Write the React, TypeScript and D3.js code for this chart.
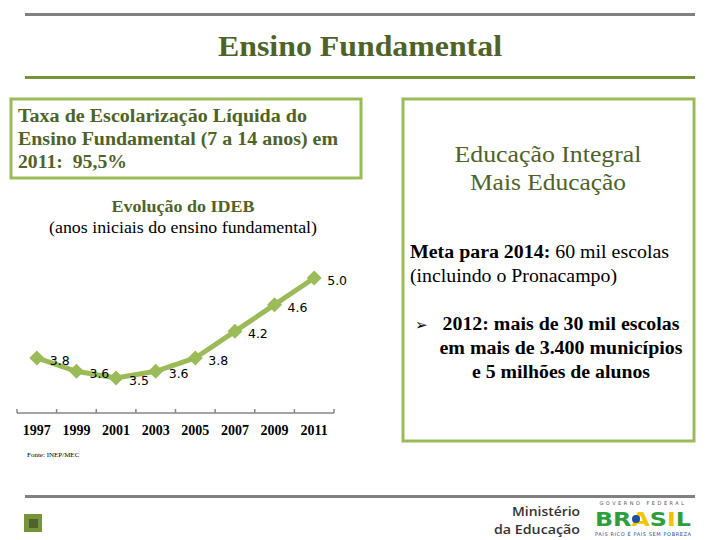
import React from "react";
import * as d3 from "d3";

const years = ["1997", "1999", "2001", "2003", "2005", "2007", "2009", "2011"];
const ideb = [3.8, 3.6, 3.5, 3.6, 3.8, 4.2, 4.6, 5.0];
const labels = ["3.8", "3.6", "3.5", "3.6", "3.8", "4.2", "4.6", "5.0"];

const title = "Ensino Fundamental";
const boxLines = [
  "Taxa de Escolarização Líquida do",
  "Ensino Fundamental (7 a 14 anos) em",
  "2011:\u00a0 95,5%",
];
const boxWidths = [289, 320, 109];
const chartTitle = "Evolução do IDEB";
const chartSub = "(anos iniciais do ensino fundamental)";
const source = "Fonte: INEP/MEC";
const rightTitle = ["Educação Integral", "Mais Educação"];
const bulletLines = ["2012: mais de 30 mil escolas", "em mais de 3.400 municípios", "e 5 milhões de alunos"];
const bulletWidths = [237, 243, 178];

const GREEN = "#9bbb59";
const DARK = "#4f6228";
const SERIF = "Liberation Serif, Times New Roman, serif";

export default function App() {
  const x = d3.scaleBand<string>().domain(years).range([17, 334]).paddingInner(0).paddingOuter(0);
  const y = d3.scaleLinear().domain([3, 5.5]).range([411.3, 244.7]);
  const pts = years.map((yr, i) => [x(yr)! + x.bandwidth() / 2, y(ideb[i])] as [number, number]);
  const line = d3.line<[number, number]>().x((d) => d[0]).y((d) => d[1]);
  const axisY = 413;
  const tickXs = d3.range(years.length + 1).map((i) => 17 + i * x.step());
  const diamond = (cx: number, cy: number) =>
    `M${cx},${cy - 7.5}L${cx + 7.5},${cy}L${cx},${cy + 7.5}L${cx - 7.5},${cy}Z`;

  return (
    <svg
      width={720}
      height={540}
      style={{ position: "absolute", left: 0, top: 0, background: "#fff", display: "block" }}
    >
      <rect x={0} y={0} width={720} height={540} fill="#fff" />
      {/* header */}
      <rect x={25} y={13} width={670} height={3} fill="#808080" />
      <text
        x={360}
        y={56}
        textAnchor="middle"
        fontFamily={SERIF}
        fontWeight="bold"
        fontSize={30}
        fill={DARK}
        textLength={284}
        lengthAdjust="spacingAndGlyphs"
      >
        {title}
      </text>
      <rect x={25} y={76} width={670} height={3} fill="#77933c" />

      {/* left box */}
      <rect x={11} y={99} width={350} height={79} fill="none" stroke={GREEN} strokeWidth={3} />
      {boxLines.map((t, i) => (
        <text
          key={i}
          x={18}
          y={122 + i * 23}
          fontFamily={SERIF}
          fontWeight="bold"
          fontSize={18}
          fill={DARK}
          textLength={boxWidths[i]}
          lengthAdjust="spacingAndGlyphs"
        >
          {t}
        </text>
      ))}

      <text x={183} y={212} textAnchor="middle" fontFamily={SERIF} fontWeight="bold" fontSize={17} fill={DARK}
        textLength={143} lengthAdjust="spacingAndGlyphs">
        {chartTitle}
      </text>
      <text x={183} y={233} textAnchor="middle" fontFamily={SERIF} fontSize={17} fill="#000"
        textLength={268} lengthAdjust="spacingAndGlyphs">
        {chartSub}
      </text>

      {/* chart */}
      <line x1={17} x2={334} y1={axisY} y2={axisY} stroke="#868686" strokeWidth={1.5} />
      {tickXs.map((tx, i) => (
        <line key={i} x1={tx} x2={tx} y1={axisY} y2={axisY - 4} stroke="#868686" strokeWidth={1.5} />
      ))}
      {years.map((yr) => (
        <text
          key={yr}
          x={x(yr)! + x.bandwidth() / 2}
          y={435}
          textAnchor="middle"
          fontFamily={SERIF}
          fontWeight="bold"
          fontSize={14}
          fill="#000"
        >
          {yr}
        </text>
      ))}
      <path d={line(pts)!} fill="none" stroke={GREEN} strokeWidth={5} strokeLinejoin="round" />
      {pts.map(([cx, cy], i) => (
        <path key={i} d={diamond(cx, cy)} fill={GREEN} />
      ))}
      {pts.map(([cx, cy], i) => (
        <text
          key={"l" + i}
          x={cx + 13}
          y={cy + 7}
          fontFamily="DejaVu Sans, sans-serif"
          fontSize={12.5}
          fill="#000"
        >
          {labels[i]}
        </text>
      ))}
      <text x={27} y={457} fontFamily={SERIF} fontSize={7} fill="#000">
        {source}
      </text>

      {/* right box */}
      <rect x={403} y={99} width={291} height={342} fill="none" stroke={GREEN} strokeWidth={3} />
      {rightTitle.map((t, i) => (
        <text key={t} x={548} y={162 + i * 28} textAnchor="middle" fontFamily={SERIF} fontSize={23} fill={DARK}
          textLength={[187, 156][i]} lengthAdjust="spacingAndGlyphs">
          {t}
        </text>
      ))}
      <text x={410} y={258} fontFamily={SERIF} fontSize={18} fill="#000" textLength={259} lengthAdjust="spacingAndGlyphs">
        <tspan fontWeight="bold">Meta para 2014:</tspan> 60 mil escolas
      </text>
      <text x={410} y={282} fontFamily={SERIF} fontSize={18} fill="#000" textLength={207} lengthAdjust="spacingAndGlyphs">
        (incluindo o Pronacampo)
      </text>
      <text x={415} y={330} fontFamily="DejaVu Sans, sans-serif" fontSize={15} fill="#000">
        ➢
      </text>
      {bulletLines.map((t, i) => (
        <text key={t} x={561} y={330 + i * 24} textAnchor="middle" fontFamily={SERIF} fontWeight="bold" fontSize={18}
          fill="#000" textLength={bulletWidths[i]} lengthAdjust="spacingAndGlyphs">
          {t}
        </text>
      ))}

      {/* footer */}
      <rect x={25} y={495} width={670} height={3} fill="#808080" />
      <rect x={24} y={514} width={18} height={18} fill="#77933c" />
      <rect x={29} y={519} width={9} height={9} fill="#4f6228" />
      <text x={580} y={516} textAnchor="end" fontFamily="Open Sans, sans-serif" fontWeight={600} fontSize={13} fill="#333"
        textLength={68} lengthAdjust="spacingAndGlyphs">
        Ministério
      </text>
      <text x={580} y={534} textAnchor="end" fontFamily="Open Sans, sans-serif" fontWeight={600} fontSize={13} fill="#333"
        textLength={86} lengthAdjust="spacingAndGlyphs">
        da Educação
      </text>
      <text x={643} y={505} textAnchor="middle" fontFamily="DejaVu Sans, sans-serif" fontSize={5} fill="#555" letterSpacing={2.5}>
        GOVERNO FEDERAL
      </text>
      <text x={643} y={526} textAnchor="middle" fontFamily="DejaVu Sans, sans-serif" fontWeight="bold" fontSize={20}
        textLength={96} lengthAdjust="spacingAndGlyphs">
        <tspan fill="#2e9e3e">B</tspan>
        <tspan fill="#2e9e3e">R</tspan>
        <tspan fill="#f2c500">A</tspan>
        <tspan fill="#2e9e3e">S</tspan>
        <tspan fill="#f2c500">I</tspan>
        <tspan fill="#2e9e3e">L</tspan>
      </text>
      <circle cx={636} cy={519} r={4} fill="#1f4fa0" />
      <text x={643} y={536} textAnchor="middle" fontFamily="DejaVu Sans, sans-serif" fontSize={5} fill="#1f4fa0" textLength={96}>
        PAÍS RICO É PAÍS SEM POBREZA
      </text>
    </svg>
  );
}
